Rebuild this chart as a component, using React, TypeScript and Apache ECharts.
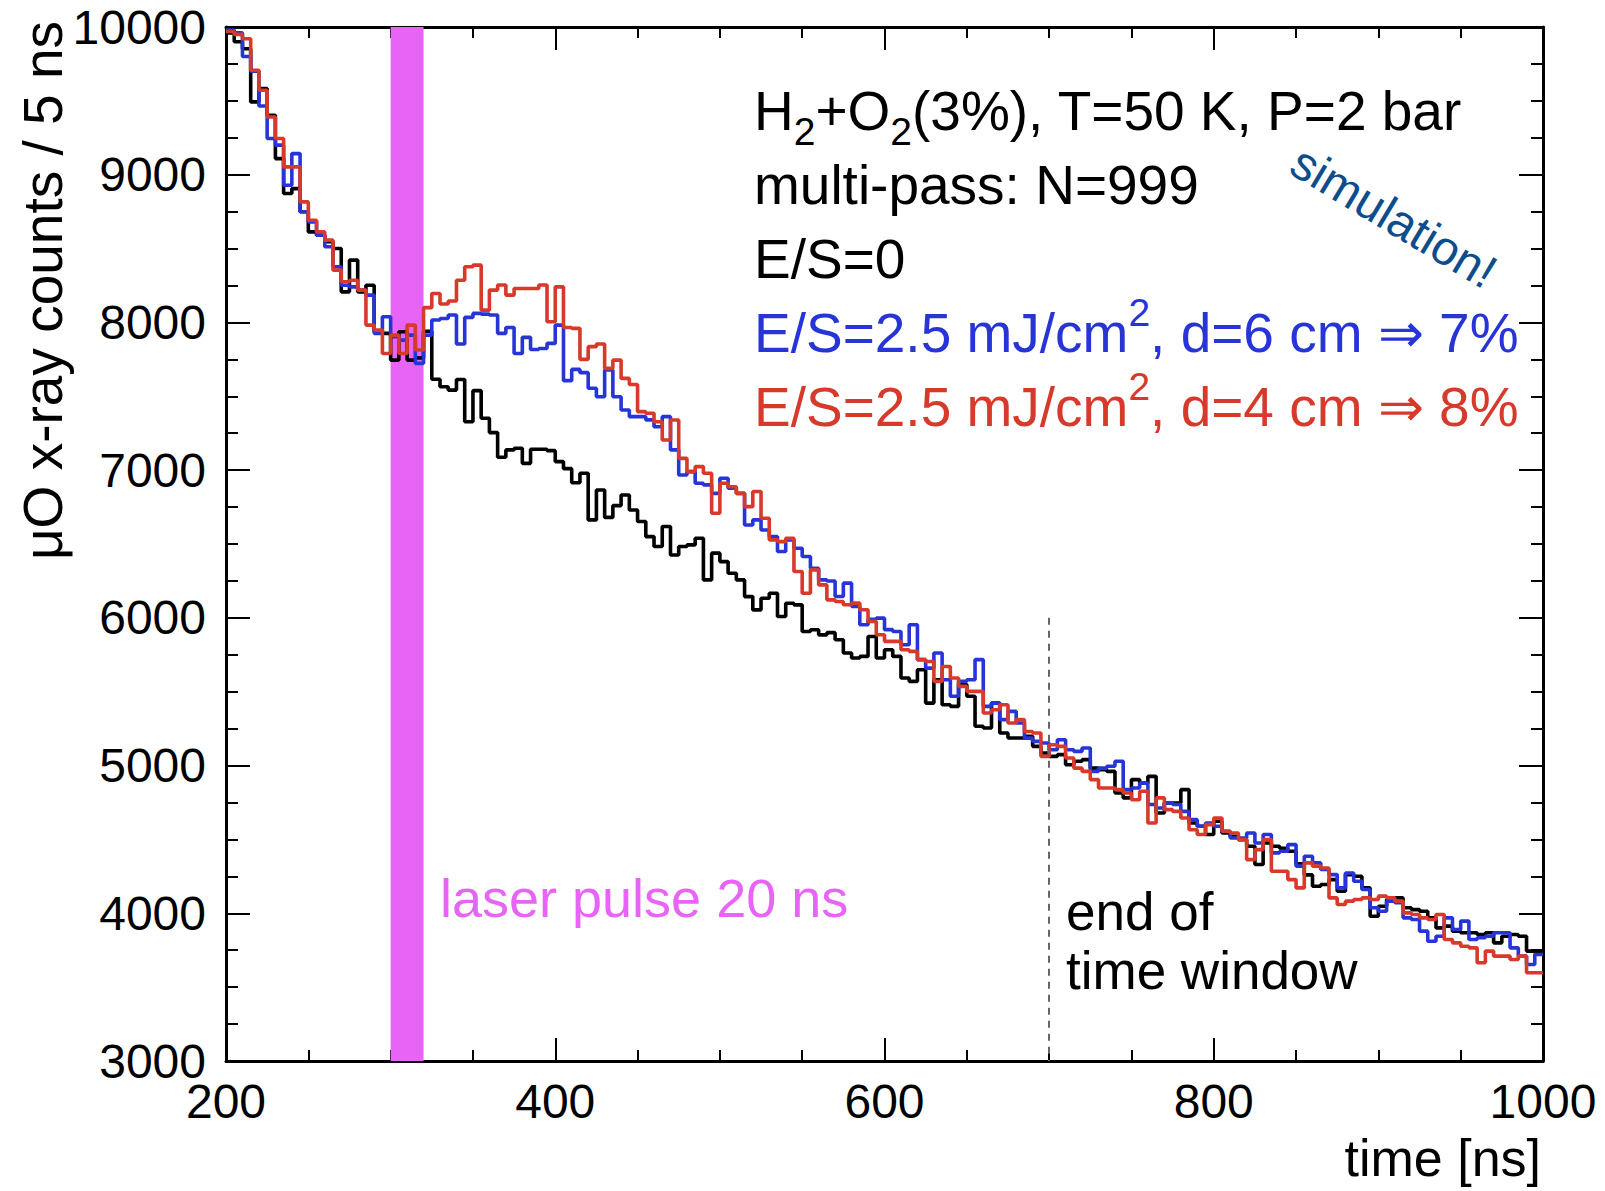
import React, { useEffect, useRef } from 'react';
import * as echarts from 'echarts';

// ---- axis ranges / ticks ----
const X_MIN = 200;
const X_MAX = 1000;
const BIN_WIDTH = 5; // ns
const Y_MIN = 3000;
const Y_MAX = 10000;
const X_TICK_STEP = 200;
const Y_TICK_STEP = 1000;

// ---- histogram contents (counts per 5 ns bin, from 200 ns to 1000 ns) ----
const countsNoLaser = [
  9960, 9900, 9853, 9493, 9583, 9402, 9109, 8873, 8906, 8749,
  8613, 8591, 8546, 8500, 8207, 8422, 8207, 8252, 7937, 7926,
  7745, 7937, 7745, 7760, 7940, 7615, 7565, 7542, 7614, 7328,
  7538, 7351, 7254, 7087, 7137, 7148, 7046, 7141, 7141, 7132,
  7058, 7010, 6915, 6979, 6663, 6866, 6680, 6760, 6832, 6730,
  6652, 6550, 6483, 6618, 6426, 6483, 6494, 6539, 6257, 6438,
  6381, 6302, 6257, 6144, 6054, 6133, 6167, 6009, 6099, 6088,
  5908, 5919, 5885, 5900, 5852, 5762, 5728, 5739, 5874, 5728,
  5784, 5739, 5593, 5570, 5649, 5423, 5581, 5412, 5401, 5548,
  5469, 5266, 5254, 5423, 5221, 5187, 5187, 5198, 5130, 5085,
  5062, 5074, 5006, 5029, 5040, 4983, 4972, 4961, 4814, 4781,
  4905, 4882, 4927, 4679, 4747, 4747, 4837, 4611, 4589, 4533,
  4623, 4544, 4521, 4499, 4454, 4330, 4476, 4454, 4440, 4420,
  4335, 4260, 4183, 4195, 4228, 4149, 4262, 4251, 4172, 3980,
  4048, 4093, 4104, 4037, 4025, 4014, 3969, 3901, 3913, 3879,
  3868, 3868, 3856, 3868, 3800, 3845, 3856, 3845, 3744, 3732,
];

const countsD6 = [
  9980, 9960, 9800, 9700, 9465, 9245, 9200, 8929, 9143, 8749,
  8681, 8591, 8512, 8377, 8252, 8241, 8219, 8185, 7926, 8038,
  7903, 7880, 7914, 7723, 7914, 8016, 8027, 8050, 7854, 8034,
  8061, 8056, 8050, 7926, 7966, 7790, 7899, 7817, 7824, 7858,
  7982, 7606, 7682, 7660, 7554, 7497, 7678, 7497, 7407, 7362,
  7362, 7340, 7294, 7362, 7137, 6967, 6990, 6911, 6900, 6843,
  6945, 6877, 6843, 6629, 6663, 6595, 6550, 6449, 6528, 6471,
  6415, 6336, 6257, 6250, 6145, 6235, 6077, 5953, 5990, 5998,
  5920, 5908, 5818, 5953, 5717, 5660, 5762, 5581, 5469, 5570,
  5581, 5717, 5401, 5423, 5311, 5367, 5288, 5186, 5164, 5153,
  5107, 5175, 5107, 5096, 5119, 4961, 4983, 4995, 5029, 4837,
  4848, 4882, 4736, 4713, 4747, 4736, 4690, 4634, 4589, 4611,
  4589, 4555, 4510, 4510, 4544, 4476, 4533, 4409, 4420, 4465,
  4319, 4386, 4341, 4296, 4262, 4172, 4273, 4217, 4161, 4037,
  4014, 4082, 4071, 3969, 3958, 3879, 3811, 3845, 3969, 3890,
  3947, 3823, 3834, 3845, 3868, 3868, 3766, 3710, 3653, 3721,
];

const countsD4 = [
  9970, 9950, 9920, 9707, 9572, 9391, 9245, 9053, 9053, 8816,
  8692, 8613, 8557, 8354, 8275, 8286, 8219, 7982, 7948, 7790,
  7914, 7790, 7982, 7813, 8100, 8196, 8125, 8145, 8286, 8377,
  8388, 8083, 8219, 8253, 8185, 8230, 8230, 8230, 8253, 8005,
  8241, 7966, 7960, 7750, 7836, 7854, 7689, 7745, 7621, 7580,
  7396, 7385, 7328, 7204, 7339, 7080, 6990, 7024, 6979, 6708,
  6911, 6888, 6843, 6753, 6855, 6674, 6528, 6516, 6539, 6314,
  6167, 6325, 6223, 6122, 6111, 6089, 6100, 6055, 5976, 5886,
  5841, 5841, 5784, 5773, 5717, 5705, 5570, 5671, 5593, 5536,
  5502, 5502, 5356, 5378, 5412, 5288, 5311, 5231, 5220, 5062,
  5141, 5130, 5051, 4983, 4961, 4905, 4848, 4848, 4837, 4814,
  4769, 4826, 4611, 4781, 4702, 4690, 4645, 4566, 4533, 4600,
  4645, 4555, 4544, 4499, 4363, 4431, 4499, 4285, 4285, 4228,
  4172, 4341, 4319, 4307, 4104, 4059, 4082, 4093, 4104, 4093,
  4116, 4104, 4082, 4003, 3992, 3969, 3958, 3992, 3823, 3800,
  3777, 3766, 3665, 3744, 3710, 3710, 3687, 3710, 3597, 3597,
];

// laser pulse window and end of time window
const LASER_START = 300;
const LASER_END = 320;
const WINDOW_END = 700;
const WINDOW_LINE_TOP = 6000;

const FONT = '"Liberation Sans", Arial, Helvetica, sans-serif';
const BLACK = '#000000';
const BLUE = '#2634d8';
const RED = '#d7392a';
const MAGENTA = '#e864f6';
const SIM_BLUE = '#0d4d8c';
const LINE_W = 3.6;

function toStepData(values: number[]) {
  const pts: [number, number][] = values.map((v, i) => [X_MIN + i * BIN_WIDTH, v]);
  pts.push([X_MAX, values[values.length - 1]]);
  return pts;
}

function plainText(x: number, y: number, text: string, size: number, color: string, align = 'left', rotation = 0) {
  return {
    type: 'text',
    x,
    y,
    rotation,
    silent: true,
    style: {
      text,
      fill: color,
      fontSize: size,
      fontFamily: FONT,
      align,
      verticalAlign: 'middle',
      textAlign: align,
      textVerticalAlign: 'middle',
    },
  };
}

function richText(x: number, y: number, text: string, color: string) {
  const base = { fontSize: 55, fontFamily: FONT, fill: color, lineHeight: 80, verticalAlign: 'middle' };
  return {
    type: 'text',
    x,
    y,
    silent: true,
    style: {
      text,
      fill: color,
      fontSize: 55,
      fontFamily: FONT,
      align: 'left',
      verticalAlign: 'middle',
      textAlign: 'left',
      textVerticalAlign: 'middle',
      rich: {
        n: base,
        s: { fontSize: 39, fontFamily: FONT, fill: color, lineHeight: 32, verticalAlign: 'bottom' },
        p: { fontSize: 39, fontFamily: FONT, fill: color, lineHeight: 39, verticalAlign: 'top' },
      },
    },
  };
}

export default function App() {
  const ref = useRef<HTMLDivElement>(null);

  useEffect(() => {
    if (!ref.current) return;
    const chart = echarts.init(ref.current, null, { renderer: 'svg' });

    const tickLine = { color: '#000', width: 2 };
    const axisLineStyle = { color: '#000', width: 3 };

    const xCommon = {
      type: 'value',
      min: X_MIN,
      max: X_MAX,
      interval: X_TICK_STEP,
      splitLine: { show: false },
      minorSplitLine: { show: false },
      axisLine: { show: true, onZero: false, lineStyle: axisLineStyle },
      axisTick: { show: true, inside: true, length: 23, lineStyle: tickLine },
      minorTick: { show: true, splitNumber: 4, length: 11, lineStyle: tickLine },
    };
    const yCommon = {
      type: 'value',
      min: Y_MIN,
      max: Y_MAX,
      interval: Y_TICK_STEP,
      splitLine: { show: false },
      minorSplitLine: { show: false },
      axisLine: { show: true, onZero: false, lineStyle: axisLineStyle },
      axisTick: { show: true, inside: true, length: 24, lineStyle: tickLine },
      minorTick: { show: true, splitNumber: 4, length: 12, lineStyle: tickLine },
    };

    const option: any = {
      animation: false,
      backgroundColor: '#ffffff',
      grid: { left: 226, top: 27, width: 1317, height: 1034, containLabel: false },
      xAxis: [
        {
          ...xCommon,
          position: 'bottom',
          axisLabel: { show: true, fontSize: 48, fontFamily: FONT, color: '#000', margin: 16, formatter: (v: number) => String(v) },
        },
        { ...xCommon, position: 'top', axisLabel: { show: false } },
      ],
      yAxis: [
        {
          ...yCommon,
          position: 'left',
          axisLabel: { show: true, fontSize: 48, fontFamily: FONT, color: '#000', margin: 20, formatter: (v: number) => String(v) },
        },
        { ...yCommon, position: 'right', axisLabel: { show: false } },
      ],
      series: [
        {
          name: 'E/S=0',
          type: 'line',
          step: 'end',
          xAxisIndex: 0,
          yAxisIndex: 0,
          showSymbol: false,
          symbol: 'none',
          z: 2,
          lineStyle: { color: BLACK, width: LINE_W },
          data: toStepData(countsNoLaser),
          markArea: {
            silent: true,
            z: 1,
            itemStyle: { color: MAGENTA, opacity: 1 },
            data: [[{ xAxis: LASER_START }, { xAxis: LASER_END }]],
          },
          markLine: {
            silent: true,
            symbol: ['none', 'none'],
            label: { show: false },
            lineStyle: { color: '#666', width: 2, type: [7, 6] },
            data: [[{ coord: [WINDOW_END, WINDOW_LINE_TOP] }, { coord: [WINDOW_END, Y_MIN] }]],
          },
        },
        {
          name: 'd=6 cm',
          type: 'line',
          step: 'end',
          showSymbol: false,
          symbol: 'none',
          z: 3,
          lineStyle: { color: BLUE, width: LINE_W },
          data: toStepData(countsD6),
        },
        {
          name: 'd=4 cm',
          type: 'line',
          step: 'end',
          showSymbol: false,
          symbol: 'none',
          z: 4,
          lineStyle: { color: RED, width: LINE_W },
          data: toStepData(countsD4),
        },
      ],
      graphic: [
        richText(754, 111, '{n|H}{s|2}{n|+O}{s|2}{n|(3%), T=50 K, P=2 bar}', BLACK),
        plainText(754, 185, 'multi-pass: N=999', 55, BLACK),
        plainText(754, 259, 'E/S=0', 55, BLACK),
        richText(754, 333, '{n|E/S=2.5 mJ/cm}{p|2}{n|, d=6 cm ⇒ 7%}', BLUE),
        richText(754, 407, '{n|E/S=2.5 mJ/cm}{p|2}{n|, d=4 cm ⇒ 8%}', RED),
        plainText(1394, 217, 'simulation!', 48, SIM_BLUE, 'center', -0.54),
        plainText(440, 898, 'laser pulse 20 ns', 54, MAGENTA),
        plainText(1066, 911, 'end of', 53, BLACK),
        plainText(1066, 970, 'time window', 53, BLACK),
        plainText(1541, 1158, 'time [ns]', 52, BLACK, 'right'),
        plainText(43, 21, 'μO x-ray counts / 5 ns', 55, BLACK, 'right', Math.PI / 2),
      ],
    };

    chart.setOption(option);
    return () => chart.dispose();
  }, []);

  return (
    <div
      ref={ref}
      style={{ position: 'fixed', left: 0, top: 0, width: 1605, height: 1191, background: '#fff' }}
    />
  );
}
